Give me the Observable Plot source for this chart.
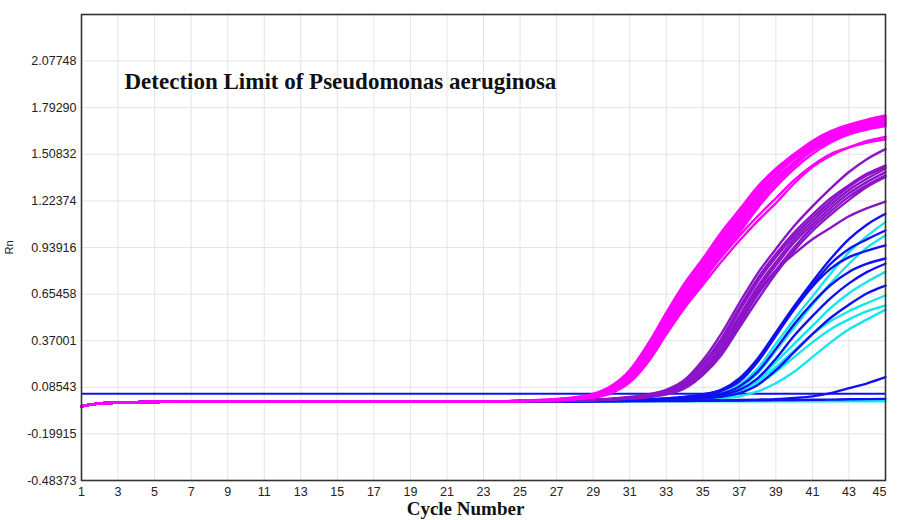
<!DOCTYPE html>
<html><head><meta charset="utf-8">
<script src="https://cdn.jsdelivr.net/npm/d3@7"></script>
<script src="https://cdn.jsdelivr.net/npm/@observablehq/plot@0.6"></script>
<style>body{margin:0;background:#fff;} #chart svg{display:block;}</style>
</head><body><div id="chart"></div>
<script>
const cycles = d3.range(1, 46);
const xTicks = [1,3,5,7,9,11,13,15,17,19,21,23,25,27,29,31,33,35,37,39,41,43,45];
const yTicks = [-0.48373,-0.19915,0.08543,0.37001,0.65458,0.93916,1.22374,1.50832,1.79290,2.07748];
const yDomain = [-0.48373, 2.36206];
const threshold = 0.046;

// cycles 1..24 shared baseline
const baseline = [-0.03,-0.013,-0.008,-0.005,-0.004,-0.003,-0.003,-0.003,-0.002,-0.002,-0.002,-0.002,-0.002,-0.002,-0.002,-0.002,-0.002,-0.002,-0.002,-0.001,-0.001,-0.001,-0.001,0];

// cycles 25..45 for each curve
const magenta = [
 [0.004,0.008,0.014,0.025,0.045,0.095,0.19,0.35,0.54,0.72,0.87,1.03,1.17,1.31,1.42,1.51,1.59,1.65,1.69,1.72,1.745],
 [0.003,0.007,0.012,0.022,0.04,0.085,0.175,0.33,0.52,0.70,0.85,1.01,1.15,1.29,1.41,1.50,1.58,1.64,1.68,1.71,1.735],
 [0.003,0.006,0.011,0.02,0.036,0.078,0.165,0.31,0.50,0.68,0.83,0.99,1.13,1.27,1.39,1.49,1.57,1.63,1.67,1.70,1.725],
 [0.002,0.005,0.01,0.018,0.033,0.072,0.155,0.30,0.49,0.66,0.81,0.97,1.11,1.26,1.38,1.48,1.56,1.62,1.665,1.695,1.715],
 [0.002,0.005,0.009,0.016,0.03,0.066,0.145,0.28,0.47,0.64,0.79,0.95,1.09,1.24,1.36,1.46,1.55,1.61,1.655,1.685,1.705],
 [0.002,0.004,0.008,0.015,0.027,0.06,0.135,0.27,0.45,0.62,0.77,0.93,1.07,1.22,1.35,1.45,1.54,1.60,1.645,1.68,1.70],
 [0.002,0.004,0.008,0.014,0.025,0.055,0.125,0.25,0.43,0.60,0.75,0.91,1.05,1.20,1.33,1.44,1.53,1.59,1.64,1.67,1.69],
 [0.001,0.003,0.007,0.013,0.023,0.05,0.115,0.24,0.41,0.58,0.73,0.89,1.03,1.18,1.31,1.42,1.51,1.58,1.63,1.66,1.68],
 [0.002,0.004,0.008,0.015,0.027,0.06,0.13,0.26,0.44,0.60,0.74,0.88,1.01,1.13,1.24,1.35,1.44,1.51,1.55,1.58,1.60],
 [0.001,0.003,0.007,0.013,0.024,0.052,0.12,0.24,0.41,0.57,0.71,0.85,0.98,1.10,1.21,1.33,1.43,1.50,1.55,1.59,1.615]
];
const purple = [
 [0,0.001,0.003,0.006,0.01,0.016,0.026,0.042,0.07,0.13,0.25,0.41,0.60,0.78,0.93,1.07,1.19,1.30,1.40,1.48,1.54],
 [0,0.001,0.002,0.005,0.009,0.015,0.024,0.04,0.065,0.12,0.23,0.38,0.57,0.75,0.90,1.03,1.14,1.24,1.32,1.39,1.44],
 [0,0.001,0.002,0.005,0.008,0.014,0.022,0.036,0.06,0.11,0.22,0.36,0.55,0.73,0.88,1.01,1.12,1.22,1.31,1.38,1.43],
 [0,0.001,0.002,0.004,0.008,0.013,0.02,0.033,0.055,0.10,0.20,0.34,0.52,0.70,0.85,0.99,1.10,1.20,1.29,1.36,1.42],
 [0,0.001,0.002,0.004,0.007,0.012,0.019,0.03,0.05,0.092,0.19,0.32,0.50,0.68,0.83,0.97,1.08,1.18,1.27,1.34,1.40],
 [0,0.001,0.002,0.004,0.007,0.011,0.017,0.027,0.046,0.085,0.17,0.30,0.47,0.65,0.80,0.94,1.06,1.16,1.25,1.32,1.38],
 [0,0.001,0.002,0.003,0.006,0.01,0.016,0.025,0.042,0.078,0.16,0.28,0.45,0.62,0.78,0.92,1.04,1.14,1.23,1.31,1.37],
 [0,0.001,0.002,0.004,0.007,0.012,0.019,0.03,0.05,0.09,0.18,0.31,0.48,0.66,0.80,0.90,0.99,1.06,1.13,1.18,1.22]
];
const blue = [
 [0,0,0.001,0.002,0.003,0.005,0.008,0.012,0.018,0.027,0.042,0.07,0.14,0.26,0.42,0.58,0.73,0.87,0.99,1.08,1.145],
 [0,0,0.001,0.002,0.003,0.005,0.007,0.011,0.017,0.025,0.04,0.066,0.13,0.25,0.41,0.57,0.71,0.84,0.93,0.99,1.043],
 [0,0,0.001,0.001,0.002,0.004,0.006,0.01,0.015,0.023,0.037,0.062,0.12,0.24,0.40,0.56,0.70,0.81,0.88,0.92,0.952],
 [0,0,0,0.001,0.002,0.003,0.005,0.008,0.012,0.018,0.028,0.046,0.09,0.18,0.32,0.47,0.60,0.71,0.79,0.84,0.872],
 [0,0,0,0.001,0.002,0.003,0.004,0.007,0.01,0.015,0.023,0.038,0.07,0.14,0.26,0.40,0.52,0.63,0.72,0.79,0.84],
 [0,0,0,0.001,0.001,0.002,0.003,0.005,0.008,0.012,0.018,0.028,0.05,0.10,0.19,0.30,0.41,0.51,0.59,0.66,0.707],
 [0,0,0,0,0.001,0.001,0.002,0.002,0.003,0.004,0.005,0.006,0.008,0.01,0.013,0.02,0.03,0.05,0.08,0.11,0.147],
 [0,0,0,0,0,0,0.001,0.001,0.002,0.002,0.003,0.004,0.005,0.006,0.007,0.008,0.009,0.01,0.012,0.013,0.015]
];
const cyan = [
 [0,0,0,0.001,0.002,0.003,0.005,0.007,0.01,0.015,0.024,0.045,0.10,0.20,0.35,0.50,0.64,0.78,0.91,1.01,1.094],
 [0,0,0,0.001,0.001,0.002,0.004,0.006,0.009,0.013,0.02,0.038,0.085,0.17,0.31,0.45,0.59,0.72,0.84,0.94,1.013],
 [0,0,0,0,0.001,0.002,0.003,0.005,0.007,0.01,0.016,0.028,0.06,0.13,0.24,0.35,0.46,0.57,0.66,0.73,0.79],
 [0,0,0,0,0.001,0.002,0.003,0.005,0.007,0.01,0.016,0.03,0.06,0.12,0.21,0.31,0.41,0.49,0.55,0.60,0.646],
 [0,0,0,0,0.001,0.001,0.002,0.004,0.006,0.009,0.014,0.025,0.05,0.10,0.18,0.27,0.36,0.44,0.50,0.55,0.585],
 [0,0,0,0,0,0.001,0.002,0.003,0.005,0.007,0.011,0.018,0.03,0.06,0.11,0.18,0.27,0.36,0.44,0.50,0.56],
 [0,0,0,0,0,0,0,0,0,0,0,0,0,0,0,0,0,0,0,0,0]
];

const groups = [
  {name: "cyan", color: "#12e6ee", tails: cyan},
  {name: "blue", color: "#1010f0", tails: blue},
  {name: "purple", color: "#8c14c8", tails: purple},
  {name: "magenta", color: "#ff00ff", tails: magenta}
];

const rows = [];
for (const g of groups) {
  g.tails.forEach((tail, i) => {
    const vals = baseline.concat(tail);
    cycles.forEach((c, k) => rows.push({cycle: c, rn: vals[k], id: g.name + i, color: g.color}));
  });
}

const chart = Plot.plot({
  width: 903, height: 520,
  marginLeft: 81, marginRight: 18, marginTop: 14, marginBottom: 40,
  x: {domain: [1, 45]},
  y: {domain: yDomain},
  color: {type: "identity"},
  style: {fontFamily: "'Liberation Sans', Arial, sans-serif", fontSize: "12.5px", color: "#222", background: "#fff"},
  marks: [
    Plot.gridX(xTicks, {stroke: "#e4e4e4", strokeOpacity: 1, strokeWidth: 1}),
    Plot.gridY(yTicks, {stroke: "#e4e4e4", strokeOpacity: 1, strokeWidth: 1}),
    Plot.ruleY([threshold], {stroke: "#1010f0", strokeWidth: 2.2}),
    Plot.line(rows, {x: "cycle", y: "rn", z: "id", stroke: "color", strokeWidth: 2.4, curve: "monotone-x"}),
    Plot.frame({stroke: "#333", strokeWidth: 1.6}),
    Plot.axisX(xTicks.filter(d => d < 45), {tickSize: 0, tickPadding: 7, label: null}),
    Plot.axisX([45], {tickSize: 0, tickPadding: 7, dx: -6, label: null}),
    Plot.axisY(yTicks, {tickSize: 0, tickPadding: 5, tickFormat: d => d.toFixed(5), label: null}),
    Plot.text(["Detection Limit of Pseudomonas aeruginosa"], {text: d => d, frameAnchor: "top-left", dx: 43, dy: 58,
      fontFamily: "'Liberation Serif', 'DejaVu Serif', serif", fontWeight: "bold", fontSize: 23, fill: "#111"}),
    Plot.text(["Cycle Number"], {text: d => d, frameAnchor: "bottom", dx: -18, dy: 28, lineAnchor: "middle",
      fontFamily: "'Liberation Serif', 'DejaVu Serif', serif", fontWeight: "bold", fontSize: 19, fill: "#111"}),
    Plot.text(["Rn"], {text: d => d, frameAnchor: "left", dx: -72, rotate: -90, textAnchor: "middle", lineAnchor: "middle",
      fontSize: 11, fill: "#222"})
  ]
});
document.getElementById("chart").append(chart);
</script>
</body></html>
